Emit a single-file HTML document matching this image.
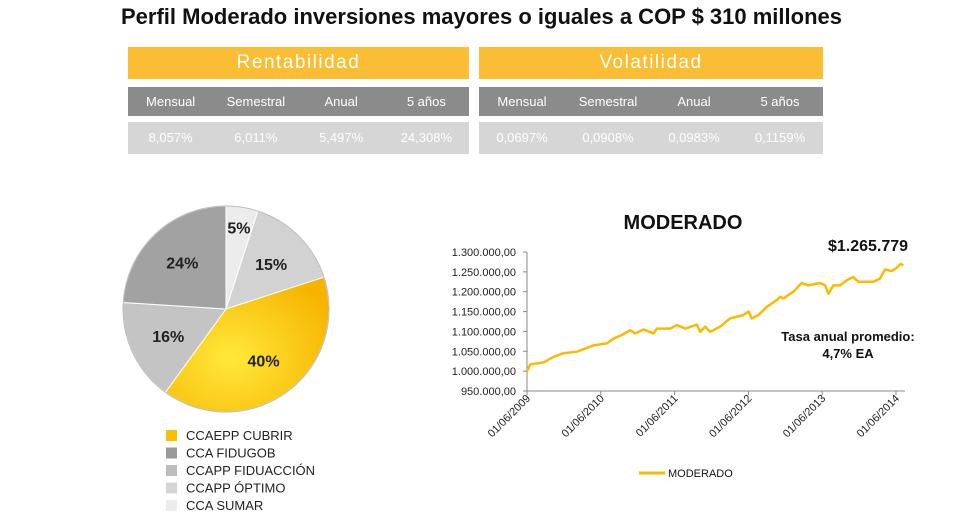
<!DOCTYPE html>
<html><head><meta charset="utf-8"><style>
body{margin:0;width:963px;height:515px;background:#fff;font-family:"Liberation Sans",sans-serif;position:relative;overflow:hidden}
.abs{position:absolute}
.hdr{background:#fbbd34;color:#fff;font-size:19px;letter-spacing:1.5px;text-align:center;line-height:32px}
.row{display:flex;font-size:13px;line-height:29px}
.row div{flex:1;text-align:center}
.g{background:#8b8b8b;color:#fff}.v{background:#d6d6d6;color:#fff}
</style></head><body>
<div class="abs" style="left:0;width:963px;top:4px;text-align:center;font-weight:bold;font-size:22px;color:#111">Perfil Moderado inversiones mayores o iguales a COP $ 310 millones</div>

<div class="abs" style="left:128px;top:47px;width:341px">
<div class="hdr">Rentabilidad</div>
<div class="row g" style="margin-top:8px"><div>Mensual</div><div>Semestral</div><div>Anual</div><div>5 años</div></div>
<div class="row v" style="margin-top:6px;line-height:32px"><div>8,057%</div><div>6,011%</div><div>5,497%</div><div>24,308%</div></div>
</div>
<div class="abs" style="left:479px;top:47px;width:344px">
<div class="hdr">Volatilidad</div>
<div class="row g" style="margin-top:8px"><div>Mensual</div><div>Semestral</div><div>Anual</div><div>5 años</div></div>
<div class="row v" style="margin-top:6px;line-height:32px"><div>0,0697%</div><div>0,0908%</div><div>0,0983%</div><div>0,1159%</div></div>
</div>

<svg class="abs" style="left:0;top:0" width="963" height="515" id="svg">
<defs>
<radialGradient id="gy" cx="0.4" cy="0.6" r="0.7"><stop offset="0" stop-color="#ffe93a"/><stop offset="1" stop-color="#f6b400"/></radialGradient>
</defs>
<g id="pie"></g><g id="leg"></g><g id="chart"></g>
</svg>
<script>
const sliceNames=["CCA SUMAR","CCAPP ÓPTIMO","CCAEPP CUBRIR","CCAPP FIDUACCIÓN","CCA FIDUGOB"];
const sliceValues=[5,15,40,16,24];
const sliceColors=["#ececec","#d2d2d2","url(#gy)","#c4c4c4","#a2a2a2"];
const legendOrder=[2,4,3,1,0];
const legendColors=["#f8c000","#9a9a9a","#bdbdbd","#d4d4d4","#ececec"];
const years=[0,0.045,0.226,0.361,0.496,0.677,0.903,1.083,1.173,1.286,1.399,1.467,1.580,1.715,1.760,1.941,2.031,2.144,2.301,2.347,2.414,2.482,2.617,2.753,2.933,3.001,3.046,3.136,3.249,3.384,3.430,3.475,3.610,3.723,3.813,3.971,4.039,4.084,4.152,4.242,4.332,4.422,4.490,4.558,4.693,4.783,4.851,4.941,5.009,5.063,5.099];
const values=[1000000,1017000,1022000,1036000,1045000,1049000,1065000,1070000,1082000,1091000,1103000,1095000,1105000,1095000,1107000,1107000,1116000,1107000,1117000,1099000,1112000,1099000,1112000,1133000,1141000,1150000,1133000,1141000,1162000,1179000,1187000,1183000,1200000,1222000,1216000,1222000,1216000,1195000,1216000,1216000,1229000,1237000,1225000,1225000,1225000,1233000,1256000,1252000,1260000,1270000,1266000];
const yTicks=[950000,1000000,1050000,1100000,1150000,1200000,1250000,1300000];
const xTicks=["01/06/2009","01/06/2010","01/06/2011","01/06/2012","01/06/2013","01/06/2014"];
const NS="http://www.w3.org/2000/svg";
function mk(t,a,p){const e=document.createElementNS(NS,t);for(const k in a)e.setAttribute(k,a[k]);p.appendChild(e);return e;}
// pie
const pie=document.getElementById('pie');const cx=226,cy=309,r=103;
const tot=sliceValues.reduce((a,b)=>a+b,0);let acc=0;
sliceValues.forEach((v,i)=>{const a0=acc/tot*2*Math.PI,a1=(acc+v)/tot*2*Math.PI;acc+=v;
const x0=cx+r*Math.sin(a0),y0=cy-r*Math.cos(a0),x1=cx+r*Math.sin(a1),y1=cy-r*Math.cos(a1);
const p=mk('path',{d:`M${cx},${cy}L${x0},${y0}A${r},${r} 0 ${a1-a0>Math.PI?1:0} 1 ${x1},${y1}Z`,fill:sliceColors[i],stroke:'#fff','stroke-width':1},pie);


const am=(a0+a1)/2,lr=i==0?0.8:0.62;
const t=mk('text',{x:cx+lr*r*Math.sin(am),y:cy-lr*r*Math.cos(am)+6,'text-anchor':'middle','font-size':16,'font-weight':'bold',fill:'#222'},pie);t.textContent=v+'%';

});
mk('circle',{cx,cy,r,fill:'none',stroke:'#bbb','stroke-width':1},pie);
const leg=document.getElementById('leg');
legendOrder.forEach((si,k)=>{const y=430+k*17.5;
const s=mk('rect',{x:166,y:y,width:11,height:11,fill:legendColors[k]},leg);


const t=mk('text',{x:186,y:y+10,'font-size':13,fill:'#222'},leg);t.textContent=sliceNames[si];

});
// line chart
const ch=document.getElementById('chart');
const X=y=>527+y*73.8, Y=v=>391-(v-950000)/350000*139;
mk('line',{x1:527,y1:252,x2:527,y2:391,stroke:'#888'},ch);
mk('line',{x1:527,y1:391,x2:905,y2:391,stroke:'#888'},ch);
yTicks.forEach(v=>{mk('line',{x1:523,y1:Y(v),x2:527,y2:Y(v),stroke:'#888'},ch);
const t=mk('text',{x:516,y:Y(v)+4,'text-anchor':'end','font-size':11,fill:'#222'},ch);
t.textContent=v.toLocaleString('de-DE')+',00';

});
xTicks.forEach((s,i)=>{const x=X(i);mk('line',{x1:x,y1:391,x2:x,y2:395,stroke:'#888'},ch);
const t=mk('text',{x:x+4,y:399,'text-anchor':'end','font-size':11,fill:'#222',transform:`rotate(-45 ${x+4} 399)`},ch);t.textContent=s;

});
const line=mk('polyline',{points:years.map((y,i)=>X(y)+','+Y(values[i])).join(' '),fill:'none',stroke:'#fbb900','stroke-width':2.5,'stroke-linejoin':'round'},ch);


function txt(x,y,s,o,n){const t=mk('text',Object.assign({x,y,fill:'#111'},o),ch);t.textContent=s;}
txt(683,229,'MODERADO',{'text-anchor':'middle','font-size':20,'font-weight':'bold'},'chart-title');
txt(868,251,'$1.265.779',{'text-anchor':'middle','font-size':16,'font-weight':'bold'},'final-value');
txt(848,341,'Tasa anual promedio:',{'text-anchor':'middle','font-size':13,'font-weight':'bold'},'rate-note');
txt(848,358,'4,7%  EA',{'text-anchor':'middle','font-size':13,'font-weight':'bold'},'rate-value');
mk('line',{x1:639,y1:473,x2:665,y2:473,stroke:'#fbb900','stroke-width':3},ch);
txt(668,477,'MODERADO',{'font-size':11},'chart-legend-entry');
</script>
</body></html>
